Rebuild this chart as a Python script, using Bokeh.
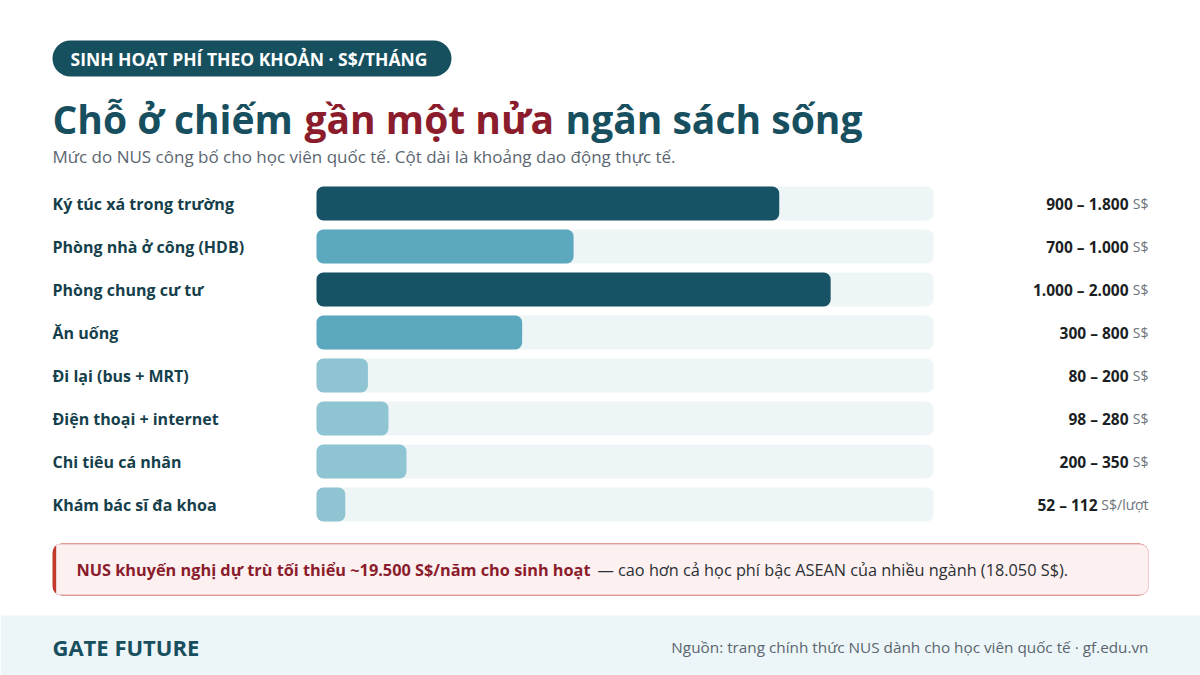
from bokeh.plotting import figure
from bokeh.models import Range1d, ColumnDataSource
from bokeh.core.properties import value
from bokeh.embed import file_html
from bokeh.resources import INLINE

# ---------------- data ----------------
categories = [
    "Ký túc xá trong trường",
    "Phòng nhà ở công (HDB)",
    "Phòng chung cư tư",
    "Ăn uống",
    "Đi lại (bus + MRT)",
    "Điện thoại + internet",
    "Chi tiêu cá nhân",
    "Khám bác sĩ đa khoa",
]
low = [900, 700, 1000, 300, 80, 98, 200, 52]
high = [1800, 1000, 2000, 800, 200, 280, 350, 112]
units = ["S$", "S$", "S$", "S$", "S$", "S$", "S$", "S$/lượt"]
tiers = ["dark", "mid", "dark", "mid", "light", "light", "light", "light"]
scale_max = 2400

# ---------------- styles ----------------
FONT = value("Open Sans")
DARK = "#174f5f"
RED = "#8b1c2c"
tier_colors = {"dark": "#175364", "mid": "#5ca8be", "light": "#8fc4d2"}
TRACK = "#edf5f7"

def fmt(v):
    return f"{v:,}".replace(",", ".")

W, H = 1200, 675
OX, OY = 0, 0
p = figure(width=W, height=H, x_range=Range1d(OX, OX + W), y_range=Range1d(OY + H, OY),
           output_backend="svg", toolbar_location=None, min_border=0,
           x_axis_location=None, y_axis_location=None, title=None)
p.grid.visible = False
p.outline_line_color = None
p.background_fill_color = "white"
p.border_fill_color = "white"

bar_x0, bar_x1 = 316, 933
k = (bar_x1 - bar_x0) / scale_max
row0, pitch = 203, 43
p.extra_x_ranges = {"val": Range1d(-(bar_x0 - OX) / k, (OX + W - bar_x0) / k)}
p.extra_y_ranges = {"row": Range1d((OY + H - row0) / pitch, (OY - row0) / pitch)}

rows = list(range(len(categories)))
src = ColumnDataSource(dict(
    row=rows, cat=categories, high=high, track=[scale_max] * len(rows),
    color=[tier_colors[t] for t in tiers],
    rng=[f"{fmt(a)} – {fmt(b)}" for a, b in zip(low, high)],
    unit=units,
    uoff=[-(len(u) * 6.2 + 7.6) for u in units],
))

# pill header
p.quad(left=52, right=451, top=40, bottom=76, fill_color="#16505f", line_color=None, border_radius=18)
p.text(x=70, y=58, text=["SINH HOẠT PHÍ THEO KHOẢN · S$/THÁNG"], text_font=FONT, text_font_style="bold",
       text_font_size="17.5px", text_color="white", text_baseline="middle")

# title
for xx, t, c in [(52, "Chỗ ở chiếm", DARK), (304, "gần một nửa", RED), (565, "ngân sách sống", DARK)]:
    p.text(x=xx, y=118, text=[t], text_font=FONT, text_font_style="bold", text_font_size="39px",
           text_color=c, text_baseline="middle")
p.text(x=52, y=156, text=["Mức do NUS công bố cho học viên quốc tế. Cột dài là khoảng dao động thực tế."],
       text_font=FONT, text_font_size="17px", text_color="#5b6670", text_baseline="middle")

# tracks and bars
p.hbar(y="row", left=0, right="track", height=0.79, source=src, x_range_name="val", y_range_name="row",
       fill_color=TRACK, line_color=None, border_radius=7)
p.hbar(y="row", left=0, right="high", height=0.79, source=src, x_range_name="val", y_range_name="row",
       fill_color="color", line_color=None, border_radius=7)

# row labels
p.text(x=52, y="row", text="cat", source=src, y_range_name="row", text_font=FONT, text_font_style="bold",
       text_font_size="16px", text_color="#163f4c", text_baseline="middle")

# value labels
p.text(x=1148, y="row", text="unit", source=src, y_range_name="row", text_font=FONT,
       text_font_size="14px", text_color="#6b737a", text_baseline="middle", text_align="right")
p.text(x=1148, y="row", x_offset="uoff", text="rng", source=src, y_range_name="row", text_font=FONT,
       text_font_style="bold", text_font_size="15.5px", text_color="#1b1f24", text_baseline="middle",
       text_align="right")

# callout
p.quad(left=52, right=1148, top=543, bottom=595, fill_color="#c0392b", line_color=None, border_radius=9)
p.quad(left=56, right=1148, top=544, bottom=594, fill_color="#fcf0f1", line_color="#f1cdd2",
       line_width=1, border_radius=(0, 8, 8, 0))
p.text(x=76, y=569, text=["NUS khuyến nghị dự trù tối thiểu ~19.500 S$/năm cho sinh hoạt"], text_font=FONT,
       text_font_style="bold", text_font_size="16.3px", text_color=RED, text_baseline="middle")
p.text(x=597, y=569, text=["— cao hơn cả học phí bậc ASEAN của nhiều ngành (18.050 S$)."], text_font=FONT,
       text_font_size="16.3px", text_color="#2b2f33", text_baseline="middle")

# footer
p.quad(left=0, right=1200, top=615, bottom=680, fill_color="#ecf5f7", line_color=None)
p.text(x=52, y=646, text=["GATE FUTURE"], text_font=FONT, text_font_style="bold", text_font_size="22px",
       text_color=DARK, text_baseline="middle")
p.text(x=1148, y=646, text=["Nguồn: trang chính thức NUS dành cho học viên quốc tế · gf.edu.vn"], text_font=FONT,
       text_font_size="15.3px", text_color="#5b6670", text_baseline="middle", text_align="right")

open("out.html", "w").write(file_html(p, INLINE))
